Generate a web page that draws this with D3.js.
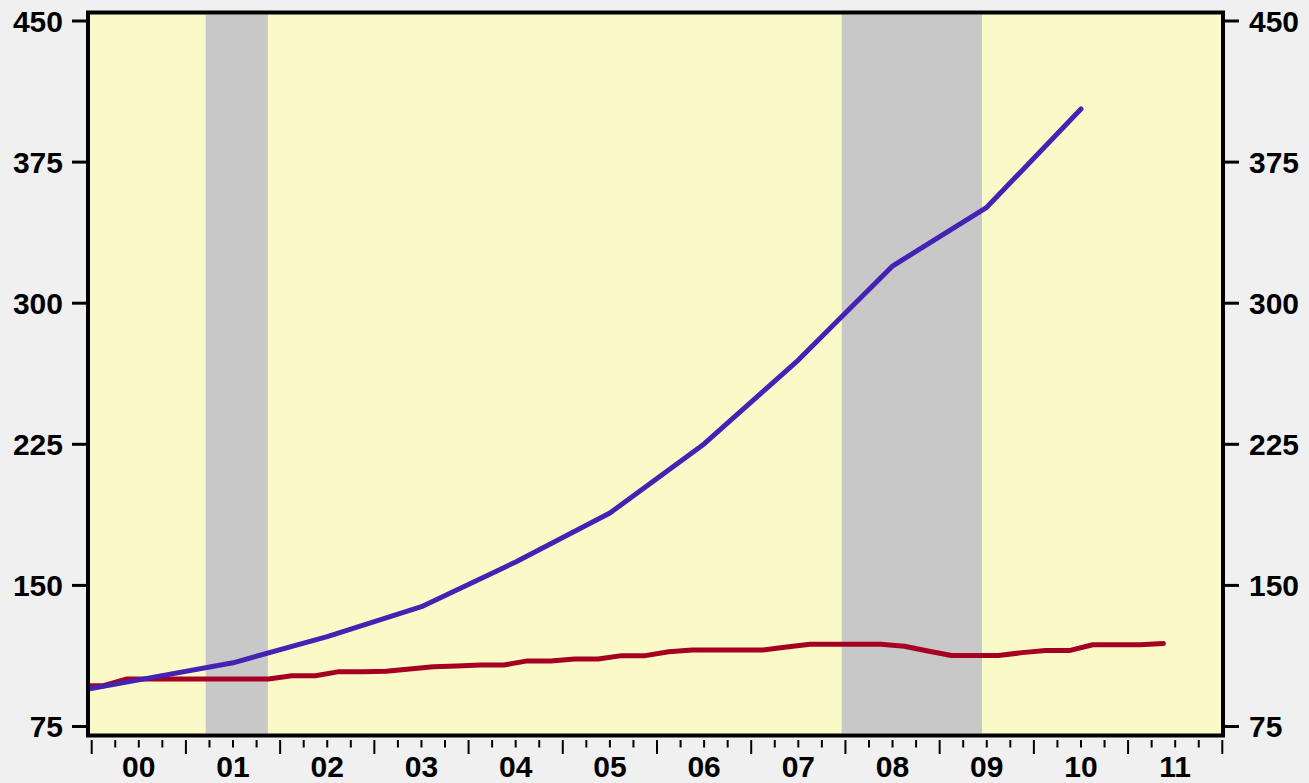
<!DOCTYPE html>
<html>
<head>
<meta charset="utf-8">
<script src="https://cdn.jsdelivr.net/npm/d3@7"></script>
<style>
  html, body { margin: 0; padding: 0; background: #f0f0f0; }
  svg { display: block; }
  text { font-family: "Liberation Sans", Arial, sans-serif; font-weight: bold; fill: #000; }
</style>
</head>
<body>
<svg id="chart" width="1309" height="783"></svg>
<script>
// ---- data ----
const yTickValues = [75, 150, 225, 300, 375, 450];
const yearLabels = ["00","01","02","03","04","05","06","07","08","09","10","11"];
const recessions = [[2001.21, 2001.87], [2007.96, 2009.45]];

// blue series: annual values, plotted at mid-year
const blueYears  = [1999.5, 2000.5, 2001.5, 2002.5, 2003.5, 2004.5, 2005.5, 2006.5, 2007.5, 2008.5, 2009.5, 2010.5];
const blueValues = [90.4, 99.5, 108.6, 122.5, 138.4, 162.2, 188.2, 224.9, 269.5, 319.5, 350.7, 403.0];

// red series: quarterly values starting 1999 Q4, plotted at mid-quarter
const redStart = 1999.75;
const redValues = [
  96.4,                              // 1999 Q4
  96.4, 100.0, 100.0, 100.0,         // 2000
  100.0, 100.0, 100.0, 100.0,        // 2001
  101.7, 101.7, 103.9, 103.9,        // 2002
  104.1, 105.3, 106.5, 106.9,        // 2003
  107.4, 107.4, 109.6, 109.6,        // 2004
  110.6, 110.6, 112.4, 112.4,        // 2005
  114.5, 115.4, 115.4, 115.4,        // 2006
  115.4, 117.0, 118.4, 118.4,        // 2007
  118.4, 118.4, 117.4, 114.9,        // 2008
  112.5, 112.5, 112.5, 114.0,        // 2009
  115.1, 115.1, 118.2, 118.2,        // 2010
  118.2, 118.8                       // 2011
];

// ---- layout ----
const svg = d3.select("#chart");
const plot = { left: 88, right: 1223, top: 12.5, bottom: 735.5 };

const x = d3.scaleLinear().domain([2000, 2012]).range([91.7, 1222.3]);
const y = d3.scaleLinear().domain([75, 450]).range([726, 20.5]);

// plot background
svg.append("rect")
  .attr("x", plot.left).attr("y", plot.top)
  .attr("width", plot.right - plot.left).attr("height", plot.bottom - plot.top)
  .attr("fill", "#fafac8");

svg.append("clipPath").attr("id", "clip")
  .append("rect")
  .attr("x", plot.left + 2).attr("y", plot.top + 2)
  .attr("width", plot.right - plot.left - 4).attr("height", plot.bottom - plot.top - 4);

const inner = svg.append("g").attr("clip-path", "url(#clip)");

// recession bands
inner.selectAll("rect.rec").data(recessions).join("rect")
  .attr("class", "rec")
  .attr("x", d => x(d[0]))
  .attr("width", d => x(d[1]) - x(d[0]))
  .attr("y", plot.top)
  .attr("height", plot.bottom - plot.top)
  .attr("fill", "#c8c8c8");

// lines
const blueData = blueYears.map((t, i) => ({ t, v: blueValues[i] }));
const redData = redValues.map((v, i) => ({ t: redStart + 0.25 * i + 0.125, v }));

const line = d3.line().x(d => x(d.t)).y(d => y(d.v));

inner.append("path").datum(redData)
  .attr("d", line)
  .attr("fill", "none").attr("stroke", "#a50021")
  .attr("stroke-width", 5).attr("stroke-linejoin", "round").attr("stroke-linecap", "round");

inner.append("path").datum(blueData)
  .attr("d", line)
  .attr("fill", "none").attr("stroke", "#4422b4")
  .attr("stroke-width", 5).attr("stroke-linejoin", "round").attr("stroke-linecap", "round");

// frame
svg.append("rect")
  .attr("x", plot.left).attr("y", plot.top)
  .attr("width", plot.right - plot.left).attr("height", plot.bottom - plot.top)
  .attr("fill", "none").attr("stroke", "#000").attr("stroke-width", 4);

// left axis
const leftAxis = d3.axisLeft(y).tickValues(yTickValues).tickSize(15).tickPadding(9).tickFormat(d3.format("d"));
const gl = svg.append("g").attr("transform", `translate(${plot.left - 1},0)`).call(leftAxis);
gl.select(".domain").remove();
gl.selectAll(".tick line").attr("stroke", "#000").attr("stroke-width", 3);
gl.selectAll(".tick text").style("font-size", "30px").style("font-family", "'Liberation Sans', Arial, sans-serif").style("font-weight", "bold").attr("dy", "0.36em");

// right axis
const rightAxis = d3.axisRight(y).tickValues(yTickValues).tickSize(15).tickPadding(10).tickFormat(d3.format("d"));
const gr = svg.append("g").attr("transform", `translate(${plot.right + 1},0)`).call(rightAxis);
gr.select(".domain").remove();
gr.selectAll(".tick line").attr("stroke", "#000").attr("stroke-width", 3);
gr.selectAll(".tick text").style("font-size", "30px").style("font-family", "'Liberation Sans', Arial, sans-serif").style("font-weight", "bold").attr("dy", "0.36em");

// bottom quarterly ticks
const quarterTicks = d3.range(0, 12 * 4 + 1).map(i => 2000 + i / 4);
svg.append("g").selectAll("line").data(quarterTicks).join("line")
  .attr("x1", d => x(d)).attr("x2", d => x(d))
  .attr("y1", 740)
  .attr("y2", (d, i) => (i % 4 === 0 ? 754 : 747.5))
  .attr("stroke", "#000").attr("stroke-width", 2);

// year labels
svg.append("g").selectAll("text").data(yearLabels).join("text")
  .attr("x", (d, i) => x(2000 + i + 0.5))
  .attr("y", 777)
  .attr("text-anchor", "middle")
  .style("font-size", "30px")
  .text(d => d);
</script>
</body>
</html>
